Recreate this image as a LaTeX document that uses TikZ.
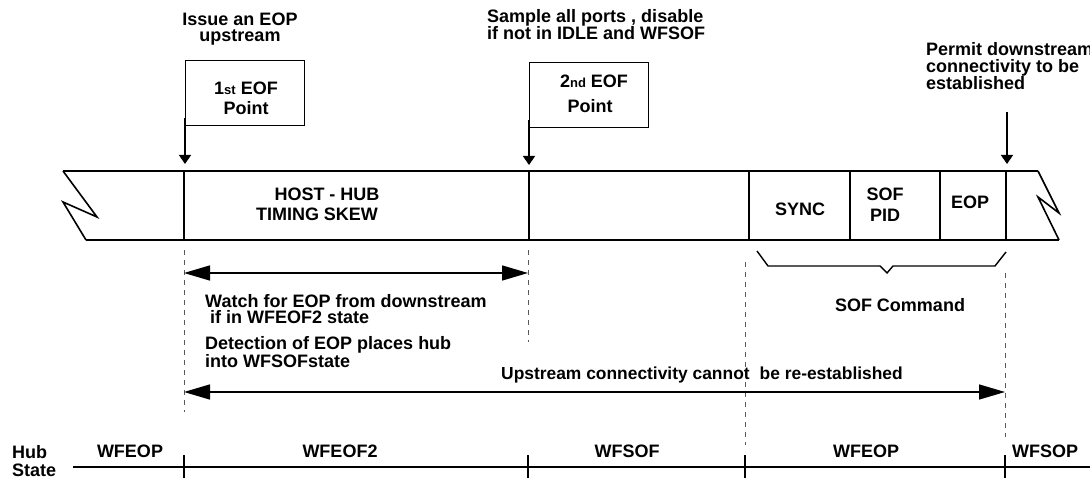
\documentclass[tikz,border=0pt]{standalone}
\usepackage{fontspec}
\setmainfont{Liberation Sans}
\usetikzlibrary{arrows.meta}
\begin{document}
\begin{tikzpicture}[x=1pt,y=-1pt,
  txt/.style={inner sep=0pt, font=\fontsize{18}{17}\selectfont\bfseries},
  band/.style={line width=1.6pt, line join=miter},
  flagbox/.style={draw, line width=1.4pt, inner sep=0pt},
  smallarrow/.style={line width=1.4pt, -{Triangle[length=9pt,width=12pt]}},
  bigarrow/.style={line width=1.5pt, {Triangle[length=26pt,width=15pt]}-{Triangle[length=26pt,width=15pt]}},
  guide/.style={draw=black!65, line width=0.8pt, dash pattern=on 5pt off 5pt},
  stateline/.style={line width=1.6pt}
]
\useasboundingbox (0,0) rectangle (1090,478);

% ---------- headers ----------
\node[txt, anchor=north, align=center, font=\fontsize{18}{16}\selectfont\bfseries] (h1) at (240,13) {Issue an EOP\\upstream};
\node[txt, anchor=north west, align=left, font=\fontsize{18}{17}\selectfont\bfseries] (h2) at (487,9) {Sample all ports , disable\\if not in IDLE and WFSOF};
\node[txt, anchor=north west, align=left, font=\fontsize{18}{17}\selectfont\bfseries] (h3) at (926,42.5) {Permit downstream\\connectivity to be\\established};

% ---------- flag boxes ----------
\node[flagbox, minimum width=119pt, minimum height=65pt, anchor=north west] (box1) at (185,60) {};
\node[txt, anchor=north, align=center, font=\fontsize{18}{20}\selectfont\bfseries] (box1t) at (246,81.5) {1{\fontsize{13}{13}\selectfont st} EOF\\Point};
\node[flagbox, minimum width=119pt, minimum height=65pt, anchor=north west] (box2) at (529,62) {};
\node[txt, anchor=north, align=center, font=\fontsize{18}{25}\selectfont\bfseries] (box2t) at (590,74.5) {\hspace*{8pt}2{\fontsize{13}{13}\selectfont nd} EOF\\Point};

\coordinate (a1) at (185,164);
\coordinate (a2) at (529,165);
\coordinate (p3top) at (1007,112);
\coordinate (a3) at (1007,164);
\draw[line width=1.4pt] (box1.south west) -- ++(0,-8);
\draw[smallarrow] (box1.south west) -- (a1);
\draw[line width=1.4pt] (box2.south west) -- ++(0,-8);
\draw[smallarrow] (box2.south west) -- (a2);
\draw[smallarrow] (p3top) -- (a3);

% ---------- band ----------
\draw[band] (63,171) -- (1038,171);
\draw[band] (86,240) -- (1059,240);
\draw[band] (63,171) -- (97,217) -- (63,202) -- (86,240);
\draw[band] (1038,171) -- (1059,213) -- (1038,197) -- (1059,240);
\foreach \x in {184,529,749,850,940,1006} \draw[band] (\x,171) -- (\x,240);

\node[txt, anchor=north, align=center, font=\fontsize{18}{20}\selectfont\bfseries] (skew) at (317,187.5) {\hspace*{20pt}HOST - HUB\\TIMING SKEW};
\node[txt, anchor=base] (sync) at (800,215.5) {SYNC};
\node[txt, anchor=north, align=center, font=\fontsize{18}{21}\selectfont\bfseries] (pid) at (885,187.5) {SOF\\PID};
\node[txt, anchor=base] (eop) at (970,208.5) {EOP};

% ---------- brace ----------
\draw[line width=1.4pt, line join=miter] (757,251) -- (768,266) -- (880,266) -- (887,273) -- (893,266) -- (995,266) -- (1006,252);
\node[txt, anchor=base] (sofc) at (900,311.5) {SOF Command};

% ---------- guides ----------
\coordinate (g1a) at (184,250); \coordinate (g1b) at (184,412);
\coordinate (g2a) at (528,250); \coordinate (g2b) at (528,342);
\coordinate (g3a) at (745,262); \coordinate (g3b) at (745,445);
\coordinate (g4a) at (1005,273); \coordinate (g4b) at (1005,437);
\draw[guide] (g1a) -- (g1b);
\draw[guide] (g2a) -- (g2b);
\draw[guide] (g3a) -- (g3b);
\draw[guide] (g4a) -- (g4b);

% ---------- skew arrow ----------
\coordinate (s1) at (184,273); \coordinate (s2) at (528,273);
\draw[bigarrow] (s1) -- (s2);
\node[txt, anchor=north west, align=left, font=\fontsize{18}{16}\selectfont\bfseries] (watch) at (205,294.5) {Watch for EOP from downstream\\\hspace*{5pt}if in WFEOF2 state};
\node[txt, anchor=north west, align=left, font=\fontsize{18}{18}\selectfont\bfseries] (detect) at (205,336.5) {Detection of EOP places hub\\into WFSOFstate};

% ---------- upstream arrow ----------
\coordinate (u1) at (184,392); \coordinate (u2) at (1005,392);
\draw[bigarrow] (u1) -- (u2);
\node[txt, anchor=base west, font=\fontsize{17.4}{17}\selectfont\bfseries] (upst) at (501,379.5) {Upstream connectivity cannot\hspace{10pt}be re-established};

% ---------- hub state ----------
\node[txt, anchor=north west, align=left, font=\fontsize{18}{18}\selectfont\bfseries] (hub) at (12,445.5) {Hub\\State};
\coordinate (l0) at (73,467); \coordinate (l1) at (1090,467);
\draw[stateline] (l0) -- (l1);
\foreach \x in {184,528,745,1005} \draw[stateline] (\x,455) -- (\x,478);
\node[txt, anchor=base] (st1) at (130,457.5) {WFEOP};
\node[txt, anchor=base] (st2) at (340,457.5) {WFEOF2};
\node[txt, anchor=base] (st3) at (627,457.5) {WFSOF};
\node[txt, anchor=base] (st4) at (866,457.5) {WFEOP};
\node[txt, anchor=base] (st5) at (1045,457.5) {WFSOP};
\end{tikzpicture}
\end{document}
